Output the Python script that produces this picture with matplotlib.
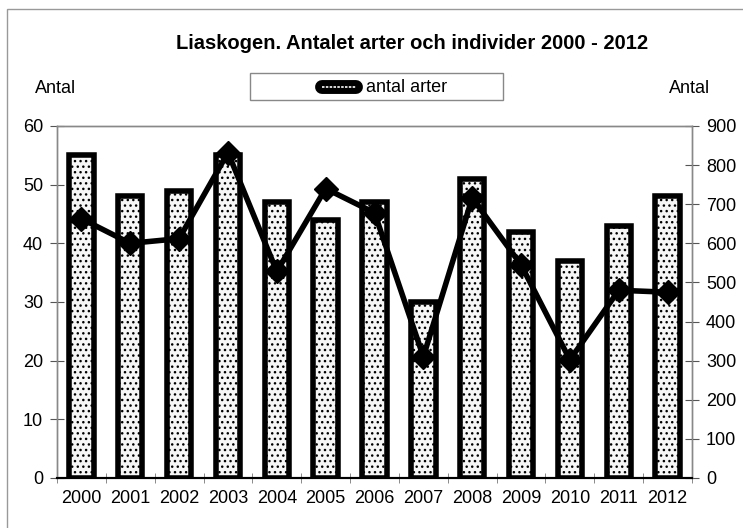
import matplotlib.pyplot as plt
from matplotlib.lines import Line2D
from matplotlib.patches import Rectangle
import numpy as np

plt.rcParams['font.family'] = ['Liberation Sans', 'DejaVu Sans']
plt.rcParams['hatch.linewidth'] = 1.0

years = [2000, 2001, 2002, 2003, 2004, 2005, 2006, 2007, 2008, 2009, 2010, 2011, 2012]
arter = [55, 48, 49, 55, 47, 44, 47, 30, 51, 42, 37, 43, 48]
individer = [663, 600, 612, 832, 528, 740, 678, 310, 716, 545, 302, 480, 475]

fig = plt.figure(figsize=(7.43, 5.28), dpi=100)
ax = fig.add_axes([0.0767, 0.0947, 0.8547, 0.6667])
ax2 = ax.twinx()

x = np.arange(len(years))
ax.bar(x, arter, width=0.5, facecolor='#f6f6f6', edgecolor='black',
       linewidth=4, hatch='...', zorder=2)
ax2.plot(x, individer, color='black', lw=4, marker='D', markersize=12,
         markerfacecolor='black', zorder=3)

ax.set_xlim(-0.5, len(years) - 0.5)
ax.set_ylim(0, 60)
ax2.set_ylim(0, 900)
ax.set_yticks(range(0, 61, 10))
ax2.set_yticks(range(0, 901, 100))
ax.set_xticks(x)
ax.set_xticklabels([str(y) for y in years])
ax.set_xticks(np.arange(-0.5, len(years)), minor=True)
ax.tick_params(axis='x', which='major', length=0, labelsize=13, pad=9)
ax.tick_params(axis='x', which='minor', direction='inout', length=7, color='#777777')
ax.tick_params(axis='y', direction='inout', length=10, labelsize=13, color='#555555', pad=5)
ax2.tick_params(axis='y', direction='inout', length=10, labelsize=13, color='#555555', pad=5)

for a in (ax, ax2):
    for s in ('left', 'top', 'right'):
        a.spines[s].set_color('#888888')
        a.spines[s].set_linewidth(1.0)
    a.spines['bottom'].set_color('black')
    a.spines['bottom'].set_linewidth(1.5)
ax.set_zorder(ax2.get_zorder() - 1)
ax2.patch.set_visible(False)

fig.text(0.555, 0.917, 'Liaskogen. Antalet arter och individer 2000 - 2012',
         ha='center', va='center', fontsize=14.5, fontweight='bold')
fig.text(0.075, 0.833, 'Antal', ha='center', va='center', fontsize=13)
fig.text(0.928, 0.833, 'Antal', ha='center', va='center', fontsize=13)

# legend box drawn by hand
fig.add_artist(Rectangle((250 / 743, 1 - 100 / 528), 253 / 743, 27 / 528,
                         transform=fig.transFigure, fill=False,
                         edgecolor='#888888', lw=1.0))
ly = 1 - 87 / 528
fig.add_artist(Line2D([322 / 743, 356 / 743], [ly, ly], transform=fig.transFigure,
                      color='black', lw=10, solid_capstyle='round'))
fig.add_artist(Line2D([322 / 743, 356 / 743], [ly, ly], transform=fig.transFigure,
                      color='white', lw=1.2, ls=(0, (1.5, 0.8))))
fig.text(366 / 743, ly, 'antal arter', ha='left', va='center', fontsize=13)

fig.add_artist(Rectangle((0.0094, -0.05), 1.1, 1.033, transform=fig.transFigure,
                         fill=False, edgecolor='#999999', lw=1.0))

fig.savefig('out.png', dpi=100)
